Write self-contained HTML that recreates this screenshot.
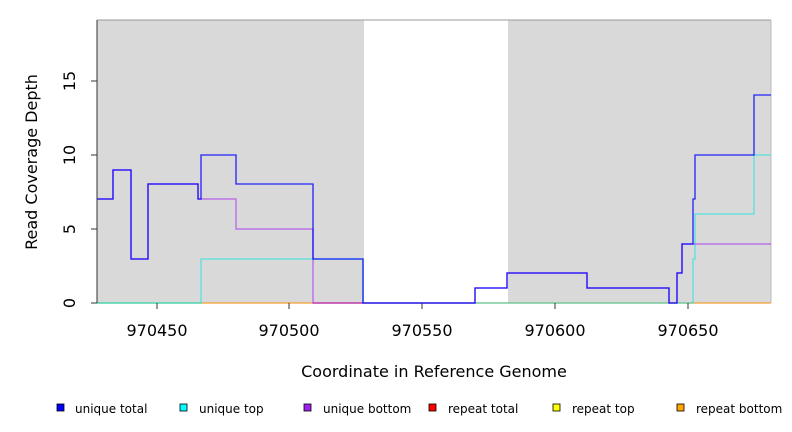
<!DOCTYPE html>
<html><head><meta charset="utf-8"><style>body{margin:0;background:#fff}svg{display:block;font-family:"DejaVu Sans","Liberation Sans",sans-serif}</style></head><body>
<svg width="792" height="432" viewBox="0 0 792 432">
<rect x="97" y="20" width="267" height="283" fill="#d9d9d9"/>
<rect x="508" y="20" width="263" height="283" fill="#d9d9d9"/>
<line x1="97" y1="20" x2="771" y2="20" stroke="#999"/>
<line x1="771" y1="20" x2="771" y2="303" stroke="#bbb"/>
<line x1="97" y1="303" x2="771" y2="303" stroke="#f0a030" stroke-width="1.2"/>
<line x1="97" y1="303" x2="201" y2="303" stroke="#88cc88" stroke-width="1.2"/>
<line x1="313" y1="303" x2="364" y2="303" stroke="#e06070" stroke-width="1.2"/>
<polyline fill="none" stroke="#00e5e5" stroke-opacity="0.6" stroke-width="1.3" points="97,303 201,303 201,259 363,259 363,303 693,303 693,259 695,259 695,214 754,214 754,155 771,155"/>
<polyline fill="none" stroke="#a020f0" stroke-opacity="0.55" stroke-width="1.5" points="97,199 113,199 113,170 131,170 131,259 148,259 148,184 198,184 198,199 236,199 236,229 313,229 313,303 475,303 475,288 507,288 507,273 587,273 587,288 669,288 669,303 677,303 677,273 682,273 682,244 771,244"/>
<polyline fill="none" stroke="#0000ff" stroke-opacity="0.85" stroke-width="1.3" points="97,199 113,199 113,170 131,170 131,259 148,259 148,184 198,184 198,199 201,199 201,155 236,155 236,184 313,184 313,259 363,259 363,303 475,303 475,288 507,288 507,273 587,273 587,288 669,288 669,303 677,303 677,273 682,273 682,244 693,244 693,199 695,199 695,155 754,155 754,95 771,95"/>
<line x1="97" y1="20" x2="97" y2="303" stroke="#333"/>
<g stroke="#333"><line x1="91" y1="303" x2="97" y2="303"/><line x1="91" y1="229" x2="97" y2="229"/><line x1="91" y1="155" x2="97" y2="155"/><line x1="91" y1="81" x2="97" y2="81"/>
<line x1="157" y1="303" x2="157" y2="309"/><line x1="289" y1="303" x2="289" y2="309"/><line x1="422" y1="303" x2="422" y2="309"/><line x1="555" y1="303" x2="555" y2="309"/><line x1="688" y1="303" x2="688" y2="309"/></g>
<g font-size="16" fill="#000" text-anchor="middle">
<text transform="translate(75,303) rotate(-90)">0</text>
<text transform="translate(75,229) rotate(-90)">5</text>
<text transform="translate(75,155) rotate(-90)">10</text>
<text transform="translate(75,81) rotate(-90)">15</text>
<text x="157" y="336">970450</text><text x="289" y="336">970500</text><text x="422" y="336">970550</text><text x="555" y="336">970600</text><text x="688" y="336">970650</text>
<text x="434" y="377">Coordinate in Reference Genome</text>
<text transform="translate(37,162) rotate(-90)">Read Coverage Depth</text>
</g>
<g font-size="12" fill="#000" stroke-width="0.8">
<rect x="57" y="404" width="7" height="7" fill="#0000ff" stroke="#000"/><text x="75" y="413">unique total</text>
<rect x="180" y="404" width="7" height="7" fill="#00ffff" stroke="#000"/><text x="199" y="413">unique top</text>
<rect x="304" y="404" width="7" height="7" fill="#a020f0" stroke="#000"/><text x="323" y="413">unique bottom</text>
<rect x="429" y="404" width="7" height="7" fill="#ff0000" stroke="#000"/><text x="448" y="413">repeat total</text>
<rect x="553" y="404" width="7" height="7" fill="#ffff00" stroke="#000"/><text x="572" y="413">repeat top</text>
<rect x="677" y="404" width="7" height="7" fill="#ffa500" stroke="#000"/><text x="696" y="413">repeat bottom</text>
</g>
</svg>
</body></html>
